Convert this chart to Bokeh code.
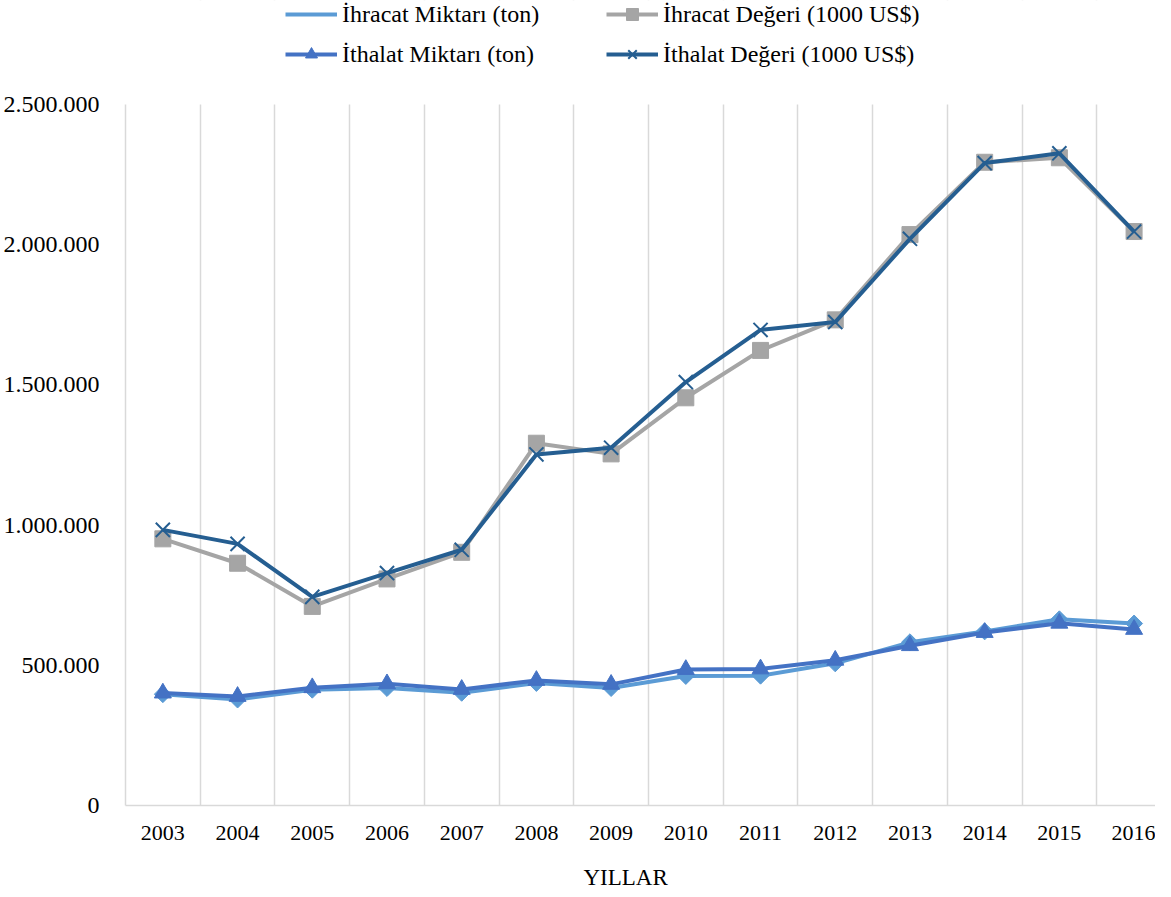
from bokeh.plotting import figure
from bokeh.models import FixedTicker, Legend, LegendItem, BoxAnnotation, Title
from bokeh.embed import file_html
from bokeh.resources import INLINE

years = ["2003", "2004", "2005", "2006", "2007", "2008", "2009", "2010",
         "2011", "2012", "2013", "2014", "2015", "2016"]
ihracat_miktari = [397000, 378000, 413000, 419000, 402000, 437000, 419000,
                   462000, 463000, 507000, 582000, 621000, 664000, 649000]
ihracat_degeri = [951000, 864000, 710000, 808000, 903000, 1292000, 1254000,
                  1454000, 1623000, 1732000, 2036000, 2294000, 2310000, 2047000]
ithalat_miktari = [401000, 389000, 420000, 434000, 414000, 446000, 432000,
                   485000, 487000, 518000, 570000, 617000, 650000, 628000]
ithalat_degeri = [983000, 933000, 744000, 829000, 912000, 1252000, 1276000,
                  1510000, 1696000, 1724000, 2021000, 2291000, 2326000, 2047000]
y_ticks = [0, 500000, 1000000, 1500000, 2000000, 2500000]
y_tick_labels = ["0", "500.000", "1.000.000", "1.500.000", "2.000.000", "2.500.000"]
x_title = "YILLAR"
names = ["İhracat Miktarı (ton)", "İhracat Değeri (1000 US$)",
         "İthalat Miktarı (ton)", "İthalat Değeri (1000 US$)"]

FONT = "Liberation Serif"
xs = list(range(1, len(years) + 1))
y_max = y_ticks[-1]

# frame: from canvas top down to the x axis; the value area (0..y_max) is 701 px tall
W, H = 1155, 912
LEFT, BOTTOM = 121, 107
frame_h = H - BOTTOM
y_end = y_max * frame_h / 701.0
x_end = 0.5 + (W - LEFT) / 75.0

p = figure(width=W, height=H, output_backend="svg", toolbar_location=None,
           x_range=(0.5, x_end), y_range=(0, y_end),
           min_border_left=LEFT, min_border_right=0, min_border_top=0,
           min_border_bottom=BOTTOM)
p.outline_line_color = None
p.background_fill_color = "white"
p.border_fill_color = "white"

# axes
p.xaxis.ticker = FixedTicker(ticks=xs)
p.xaxis.major_label_overrides = {x: y for x, y in zip(xs, years)}
p.yaxis.ticker = FixedTicker(ticks=y_ticks)
p.yaxis.major_label_overrides = {t: l for t, l in zip(y_ticks, y_tick_labels)}
p.yaxis.bounds = (0, y_max)
for ax in (p.xaxis, p.yaxis):
    ax.major_tick_line_color = None
    ax.minor_tick_line_color = None
    ax.axis_line_color = "#D9D9D9"
    ax.axis_line_width = 1.5
    ax.major_label_text_font = FONT
    ax.major_label_text_color = "#000000"
p.xaxis.major_label_text_font_size = "22px"
p.yaxis.major_label_text_font_size = "24px"
p.xaxis.major_label_standoff = 14
p.yaxis.major_label_standoff = 20

p.ygrid.grid_line_color = None
p.xgrid.ticker = FixedTicker(ticks=[i + 0.5 for i in xs])
p.xgrid.grid_line_color = "#D9D9D9"
p.xgrid.grid_line_width = 1.5
# keep the legend strip above the value area free of grid lines
p.add_layout(BoxAnnotation(bottom=y_max, fill_color="white", fill_alpha=1.0,
                           line_alpha=0, level="underlay"))

# series
c1, c2, c3, c4 = "#5B9BD5", "#A5A5A5", "#4472C4", "#255E91"
l1 = p.line(xs, ihracat_miktari, line_color=c1, line_width=4)
m1 = p.scatter(xs, ihracat_miktari, marker="square", angle=0.785398, size=12,
               fill_color=c1, line_color=c1)
m1_key = p.scatter(x=[], y=[], marker="diamond", size=16, fill_color=c1, line_color=c1)
l2 = p.line(xs, ihracat_degeri, line_color=c2, line_width=4)
m2 = p.scatter(xs, ihracat_degeri, marker="square", size=16,
               fill_color=c2, line_color=c2)
l3 = p.line(xs, ithalat_miktari, line_color=c3, line_width=4)
m3 = p.scatter(xs, ithalat_miktari, marker="triangle", size=17,
               fill_color=c3, line_color=c3)
l4 = p.line(xs, ithalat_degeri, line_color=c4, line_width=4)
m4 = p.scatter(xs, ithalat_degeri, marker="x", size=20,
               line_color=c4, line_width=2)

def make_legend(items, loc):
    lg = Legend(items=items, location=loc, orientation="vertical")
    lg.glyph_width = 52
    lg.glyph_height = 30
    lg.label_height = 30
    lg.label_standoff = 5
    lg.spacing = 10
    lg.padding = 0
    lg.margin = 0
    lg.border_line_color = None
    lg.background_fill_alpha = 0
    lg.label_text_font = FONT
    lg.label_text_font_size = "24px"
    lg.label_text_color = "#000000"
    lg.label_text_baseline = "middle"
    return lg

leg1 = make_legend([LegendItem(label=names[0], renderers=[l1, m1_key]),
                    LegendItem(label=names[2], renderers=[l3, m3])], (160, 736))
leg2 = make_legend([LegendItem(label=names[1], renderers=[l2, m2]),
                    LegendItem(label=names[3], renderers=[l4, m4])], (481, 736))
p.add_layout(leg1)
p.add_layout(leg2)

p.add_layout(Title(text=x_title, align="left", offset=458, standoff=41,
                   text_font=FONT, text_font_size="23px", text_font_style="normal",
                   text_color="#000000"), "below")

open("out.html", "w").write(file_html(p, INLINE))
